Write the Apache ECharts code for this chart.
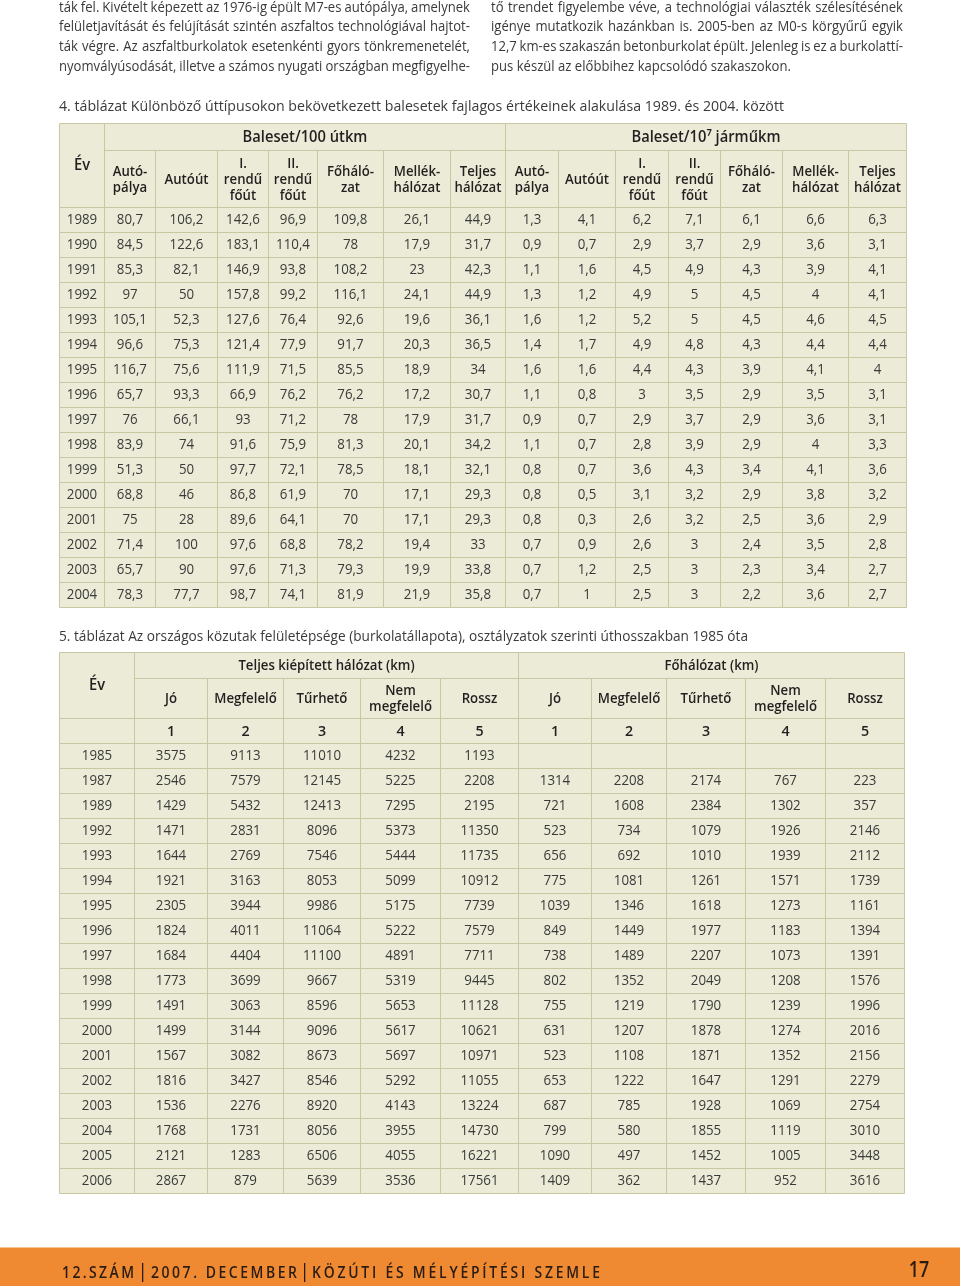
<!DOCTYPE html>
<html><head><meta charset="utf-8">
<script src="https://cdn.jsdelivr.net/npm/echarts@6/dist/echarts.min.js"></script>
<style>html,body{margin:0;padding:0;background:#fff}#c{width:960px;height:1286px}</style>
</head><body><div id="c"></div>
<script>
// ---------------- DATA ----------------
const paraLeft = [
  'ták fel. Kivételt képezett az 1976-ig épült M7-es autópálya, amelynek',
  'felületjavítását és felújítását szintén aszfaltos technológiával hajtot-',
  'ták végre. Az aszfaltburkolatok esetenkénti gyors tönkremenetelét,',
  'nyomvályúsodását, illetve a számos nyugati országban megfigyelhe-'
];
const paraRight = [
  'tő trendet figyelembe véve, a technológiai választék szélesítésének',
  'igénye mutatkozik hazánkban is. 2005-ben az M0-s körgyűrű egyik',
  '12,7 km-es szakaszán betonburkolat épült. Jelenleg is ez a burkolattí-',
  'pus készül az előbbihez kapcsolódó szakaszokon.'
];

const t4Title = '4. táblázat Különböző úttípusokon bekövetkezett balesetek fajlagos értékeinek alakulása 1989. és 2004. között';
const t4Corner = 'Év';
const t4Groups = ['Baleset/100 útkm', 'Baleset/10\u2077 járműkm'];
const t4Heads = ['Autó-\npálya', 'Autóút', 'I.\nrendű\nfőút', 'II.\nrendű\nfőút', 'Főháló-\nzat', 'Mellék-\nhálózat', 'Teljes\nhálózat'];
const t4Years = ['1989','1990','1991','1992','1993','1994','1995','1996','1997','1998','1999','2000','2001','2002','2003','2004'];
const t4PerKm = [
  [80.7, 106.2, 142.6, 96.9, 109.8, 26.1, 44.9],
  [84.5, 122.6, 183.1, 110.4, 78, 17.9, 31.7],
  [85.3, 82.1, 146.9, 93.8, 108.2, 23, 42.3],
  [97, 50, 157.8, 99.2, 116.1, 24.1, 44.9],
  [105.1, 52.3, 127.6, 76.4, 92.6, 19.6, 36.1],
  [96.6, 75.3, 121.4, 77.9, 91.7, 20.3, 36.5],
  [116.7, 75.6, 111.9, 71.5, 85.5, 18.9, 34],
  [65.7, 93.3, 66.9, 76.2, 76.2, 17.2, 30.7],
  [76, 66.1, 93, 71.2, 78, 17.9, 31.7],
  [83.9, 74, 91.6, 75.9, 81.3, 20.1, 34.2],
  [51.3, 50, 97.7, 72.1, 78.5, 18.1, 32.1],
  [68.8, 46, 86.8, 61.9, 70, 17.1, 29.3],
  [75, 28, 89.6, 64.1, 70, 17.1, 29.3],
  [71.4, 100, 97.6, 68.8, 78.2, 19.4, 33],
  [65.7, 90, 97.6, 71.3, 79.3, 19.9, 33.8],
  [78.3, 77.7, 98.7, 74.1, 81.9, 21.9, 35.8]
];
const t4PerVeh = [
  [1.3, 4.1, 6.2, 7.1, 6.1, 6.6, 6.3],
  [0.9, 0.7, 2.9, 3.7, 2.9, 3.6, 3.1],
  [1.1, 1.6, 4.5, 4.9, 4.3, 3.9, 4.1],
  [1.3, 1.2, 4.9, 5, 4.5, 4, 4.1],
  [1.6, 1.2, 5.2, 5, 4.5, 4.6, 4.5],
  [1.4, 1.7, 4.9, 4.8, 4.3, 4.4, 4.4],
  [1.6, 1.6, 4.4, 4.3, 3.9, 4.1, 4],
  [1.1, 0.8, 3, 3.5, 2.9, 3.5, 3.1],
  [0.9, 0.7, 2.9, 3.7, 2.9, 3.6, 3.1],
  [1.1, 0.7, 2.8, 3.9, 2.9, 4, 3.3],
  [0.8, 0.7, 3.6, 4.3, 3.4, 4.1, 3.6],
  [0.8, 0.5, 3.1, 3.2, 2.9, 3.8, 3.2],
  [0.8, 0.3, 2.6, 3.2, 2.5, 3.6, 2.9],
  [0.7, 0.9, 2.6, 3, 2.4, 3.5, 2.8],
  [0.7, 1.2, 2.5, 3, 2.3, 3.4, 2.7],
  [0.7, 1, 2.5, 3, 2.2, 3.6, 2.7]
];

const t5Title = '5. táblázat Az országos közutak felületépsége (burkolatállapota), osztályzatok szerinti úthosszakban 1985 óta';
const t5Corner = 'Év';
const t5Groups = ['Teljes kiépített hálózat (km)', 'Főhálózat (km)'];
const t5Heads = ['Jó', 'Megfelelő', 'Tűrhető', 'Nem\nmegfelelő', 'Rossz'];
const t5Grades = ['1', '2', '3', '4', '5'];
const t5Years = ['1985','1987','1989','1992','1993','1994','1995','1996','1997','1998','1999','2000','2001','2002','2003','2004','2005','2006'];
const t5Total = [
  [3575, 9113, 11010, 4232, 1193],
  [2546, 7579, 12145, 5225, 2208],
  [1429, 5432, 12413, 7295, 2195],
  [1471, 2831, 8096, 5373, 11350],
  [1644, 2769, 7546, 5444, 11735],
  [1921, 3163, 8053, 5099, 10912],
  [2305, 3944, 9986, 5175, 7739],
  [1824, 4011, 11064, 5222, 7579],
  [1684, 4404, 11100, 4891, 7711],
  [1773, 3699, 9667, 5319, 9445],
  [1491, 3063, 8596, 5653, 11128],
  [1499, 3144, 9096, 5617, 10621],
  [1567, 3082, 8673, 5697, 10971],
  [1816, 3427, 8546, 5292, 11055],
  [1536, 2276, 8920, 4143, 13224],
  [1768, 1731, 8056, 3955, 14730],
  [2121, 1283, 6506, 4055, 16221],
  [2867, 879, 5639, 3536, 17561]
];
const t5Main = [
  [null, null, null, null, null],
  [1314, 2208, 2174, 767, 223],
  [721, 1608, 2384, 1302, 357],
  [523, 734, 1079, 1926, 2146],
  [656, 692, 1010, 1939, 2112],
  [775, 1081, 1261, 1571, 1739],
  [1039, 1346, 1618, 1273, 1161],
  [849, 1449, 1977, 1183, 1394],
  [738, 1489, 2207, 1073, 1391],
  [802, 1352, 2049, 1208, 1576],
  [755, 1219, 1790, 1239, 1996],
  [631, 1207, 1878, 1274, 2016],
  [523, 1108, 1871, 1352, 2156],
  [653, 1222, 1647, 1291, 2279],
  [687, 785, 1928, 1069, 2754],
  [799, 580, 1855, 1119, 3010],
  [1090, 497, 1452, 1005, 3448],
  [1409, 362, 1437, 952, 3616]
];

const footerParts = ['12.SZÁM', '2007. DECEMBER', 'KÖZÚTI ÉS MÉLYÉPÍTÉSI SZEMLE'];
const pageNumber = '17';

// ---------------- LAYOUT / STYLE ----------------
const FAM = '"Open Sans","Noto Sans",sans-serif';
const fHead = s => '600 ' + s + 'px ' + FAM;
const fReg = s => '400 ' + s + 'px ' + FAM;
const CELL_FILL = '#ecebd7', CELL_LINE = '#c9c7a2';
const HEAD_COLOR = '#231f20', DATA_COLOR = '#3a3a3a', TEXT_COLOR = '#3a3a3a';

const t4Box = {left: 59, top: 123};
const t4ColW = [45, 51, 62, 51, 49, 66, 67, 55, 53, 57, 53, 52, 62, 66, 58];
const t4HeadRowH = [27, 57];
const t5Box = {left: 59, top: 652};
const t5ColW = [75, 73, 76, 77, 80, 78, 73, 75, 79, 80, 79];
const t5HeadRowH = [26, 40, 25];
const ROW_H = 25;

const fmt = v => (v === null || v === undefined) ? '' : String(v).replace('.', ',');
const cum = arr => { const r = [0]; arr.forEach(v => r.push(r[r.length - 1] + v)); return r; };
const sum = arr => arr.reduce((a, b) => a + b, 0);

const mctx = document.createElement('canvas').getContext('2d');
const tw = (s, font) => { mctx.font = font; return mctx.measureText(s).width; };

// ---------------- TABLE CELLS ----------------
function cell(list, c0, c1, r0, r1, text, font, k, fill) { list.push({c0, c1, r0, r1, text, font, k, fill}); }

const HS = 14.5, HK = 0.91;
const t4Cells = [];
cell(t4Cells, 0, 1, 0, 2, t4Corner, fHead(15.5), 0.95, HEAD_COLOR);
cell(t4Cells, 1, 8, 0, 1, t4Groups[0], fHead(15.5), 0.95, HEAD_COLOR);
cell(t4Cells, 8, 15, 0, 1, t4Groups[1], fHead(15.5), 0.95, HEAD_COLOR);
t4Heads.forEach((h, i) => {
  cell(t4Cells, 1 + i, 2 + i, 1, 2, h, fHead(HS), HK, HEAD_COLOR);
  cell(t4Cells, 8 + i, 9 + i, 1, 2, h, fHead(HS), HK, HEAD_COLOR);
});
t4Years.forEach((y, r) => {
  cell(t4Cells, 0, 1, 2 + r, 3 + r, y, fReg(14), 0.95, DATA_COLOR);
  t4PerKm[r].forEach((v, i) => cell(t4Cells, 1 + i, 2 + i, 2 + r, 3 + r, fmt(v), fReg(14), 0.95, DATA_COLOR));
  t4PerVeh[r].forEach((v, i) => cell(t4Cells, 8 + i, 9 + i, 2 + r, 3 + r, fmt(v), fReg(14), 0.95, DATA_COLOR));
});

const t5Cells = [];
cell(t5Cells, 0, 1, 0, 2, t5Corner, fHead(15.5), 0.95, HEAD_COLOR);
cell(t5Cells, 1, 6, 0, 1, t5Groups[0], fHead(HS), HK, HEAD_COLOR);
cell(t5Cells, 6, 11, 0, 1, t5Groups[1], fHead(HS), HK, HEAD_COLOR);
t5Heads.forEach((h, i) => {
  cell(t5Cells, 1 + i, 2 + i, 1, 2, h, fHead(HS), HK, HEAD_COLOR);
  cell(t5Cells, 6 + i, 7 + i, 1, 2, h, fHead(HS), HK, HEAD_COLOR);
});
cell(t5Cells, 0, 1, 2, 3, '', fHead(HS), 1, HEAD_COLOR);
t5Grades.forEach((g, i) => {
  cell(t5Cells, 1 + i, 2 + i, 2, 3, g, fHead(15), 0.95, HEAD_COLOR);
  cell(t5Cells, 6 + i, 7 + i, 2, 3, g, fHead(15), 0.95, HEAD_COLOR);
});
t5Years.forEach((y, r) => {
  cell(t5Cells, 0, 1, 3 + r, 4 + r, y, fReg(14), 0.95, DATA_COLOR);
  t5Total[r].forEach((v, i) => cell(t5Cells, 1 + i, 2 + i, 3 + r, 4 + r, fmt(v), fReg(14), 0.95, DATA_COLOR));
  t5Main[r].forEach((v, i) => cell(t5Cells, 6 + i, 7 + i, 3 + r, 4 + r, fmt(v), fReg(14), 0.95, DATA_COLOR));
});

const t4RowH = t4HeadRowH.concat(t4Years.map(() => ROW_H));
const t5RowH = t5HeadRowH.concat(t5Years.map(() => ROW_H));

function toData(cells, colW, rowH) {
  const cx = cum(colW), cy = cum(rowH);
  return cells.map(c => [cx[c.c0], cx[c.c1], cy[c.r0], cy[c.r1]]);
}

function makeRender(cells) {
  return function (params, api) {
    const c = cells[params.dataIndex];
    const a = api.coord([api.value(0), api.value(2)]);
    const b = api.coord([api.value(1), api.value(3)]);
    const x0 = Math.round(a[0]) + 0.5, y0 = Math.round(a[1]) + 0.5;
    const x1 = Math.round(b[0]) + 0.5, y1 = Math.round(b[1]) + 0.5;
    return {
      type: 'group',
      children: [
        {type: 'rect', z2: 0, shape: {x: x0, y: y0, width: x1 - x0, height: y1 - y0}, style: {fill: CELL_FILL}},
        {type: 'rect', z2: 5, shape: {x: x0, y: y0, width: x1 - x0, height: y1 - y0}, style: {fill: 'none', stroke: CELL_LINE, lineWidth: 1}},
        {type: 'text', z2: 10, x: (x0 + x1) / 2, y: (y0 + y1) / 2 + 0.5, scaleX: c.k,
          style: {text: c.text, font: c.font, fill: c.fill, align: 'center', verticalAlign: 'middle', lineHeight: 16}}
      ]
    };
  };
}

// ---------------- TEXT RUNS (justified paragraphs, letter-spaced footer) ----------------
function run(tokens, font, x0, x1, y, k, justify, fill, gapDefault) {
  const ws = tokens.map(t => tw(t, font) * k);
  const total = sum(ws);
  let gap = gapDefault;
  if (justify && tokens.length > 1) gap = (x1 - x0 - total) / (tokens.length - 1);
  let x = x0;
  const els = [];
  tokens.forEach((t, i) => {
    els.push({type: 'text', x: x, y: y, scaleX: k, z2: 20, silent: true,
      style: {text: t, font: font, fill: fill, align: 'left', verticalAlign: 'middle'}});
    x += ws[i] + gap;
  });
  return els;
}

const graphics = [];
// paragraphs
const PFONT = fReg(15);
const SP = tw(' ', PFONT);
const colsP = [{lines: paraLeft, x0: 59, x1: 470}, {lines: paraRight, x0: 491, x1: 903}];
let kP = 1;
colsP.forEach(col => col.lines.forEach((ln, i) => {
  const last = (col === colsP[1] && i === col.lines.length - 1);
  if (last) return;
  const words = ln.split(' ');
  const natural = sum(words.map(w => tw(w, PFONT))) + (words.length - 1) * SP * 0.8;
  kP = Math.min(kP, (col.x1 - col.x0) / natural);
}));
colsP.forEach(col => col.lines.forEach((ln, i) => {
  const last = (col === colsP[1] && i === col.lines.length - 1);
  const words = ln.split(' ');
  graphics.push(...run(words, PFONT, col.x0, col.x1, 7.5 + 19.7 * i, kP, !last, TEXT_COLOR, SP * kP));
}));

// table titles
const TFONT = fReg(15);
[[t4Title, 59, 784, 107], [t5Title, 59, 748, 637]].forEach(([txt, x0, x1, y]) => {
  graphics.push({type: 'text', x: x0, y: y, scaleX: (x1 - x0) / tw(txt, TFONT), z2: 20, silent: true,
    style: {text: txt, font: TFONT, fill: TEXT_COLOR, align: 'left', verticalAlign: 'middle'}});
});

// footer
graphics.push({type: 'rect', silent: true, z2: 1, shape: {x: 0, y: 1247, width: 960, height: 1}, style: {fill: '#f6c493'}});
graphics.push({type: 'rect', silent: true, z2: 1, shape: {x: 0, y: 1248, width: 960, height: 38}, style: {fill: '#ef8a33'}});
const FFONT = fHead(17);
const footSpan = [[62, 134], [151, 297], [312, 600]];
footerParts.forEach((p, i) => {
  graphics.push(...run(Array.from(p), FFONT, footSpan[i][0], footSpan[i][1], 1273, 0.82, true, '#2a1c12', 0));
});
[142, 304].forEach(x => graphics.push({type: 'rect', silent: true, z2: 20, shape: {x: x, y: 1263, width: 1.3, height: 19}, style: {fill: '#2a1c12'}}));
graphics.push({type: 'text', x: 919, y: 1271, z2: 20, silent: true, scaleX: 0.85,
  style: {text: pageNumber, font: fHead(21), fill: '#2a1c12', align: 'center', verticalAlign: 'middle'}});

// ---------------- CHART ----------------
const chart = echarts.init(document.getElementById('c'), null, {renderer: 'canvas'});
const t4W = sum(t4ColW), t4H = sum(t4RowH), t5W = sum(t5ColW), t5H = sum(t5RowH);
chart.setOption({
  backgroundColor: '#ffffff',
  animation: false,
  grid: [
    {left: t4Box.left, top: t4Box.top, width: t4W, height: t4H, containLabel: false},
    {left: t5Box.left, top: t5Box.top, width: t5W, height: t5H, containLabel: false}
  ],
  xAxis: [
    {type: 'value', gridIndex: 0, min: 0, max: t4W, show: false},
    {type: 'value', gridIndex: 1, min: 0, max: t5W, show: false}
  ],
  yAxis: [
    {type: 'value', gridIndex: 0, min: 0, max: t4H, inverse: true, show: false},
    {type: 'value', gridIndex: 1, min: 0, max: t5H, inverse: true, show: false}
  ],
  series: [
    {type: 'custom', xAxisIndex: 0, yAxisIndex: 0, silent: true, clip: false,
      encode: {x: [0, 1], y: [2, 3]}, data: toData(t4Cells, t4ColW, t4RowH), renderItem: makeRender(t4Cells)},
    {type: 'custom', xAxisIndex: 1, yAxisIndex: 1, silent: true, clip: false,
      encode: {x: [0, 1], y: [2, 3]}, data: toData(t5Cells, t5ColW, t5RowH), renderItem: makeRender(t5Cells)}
  ],
  graphic: {elements: graphics}
});
</script>
</body></html>
